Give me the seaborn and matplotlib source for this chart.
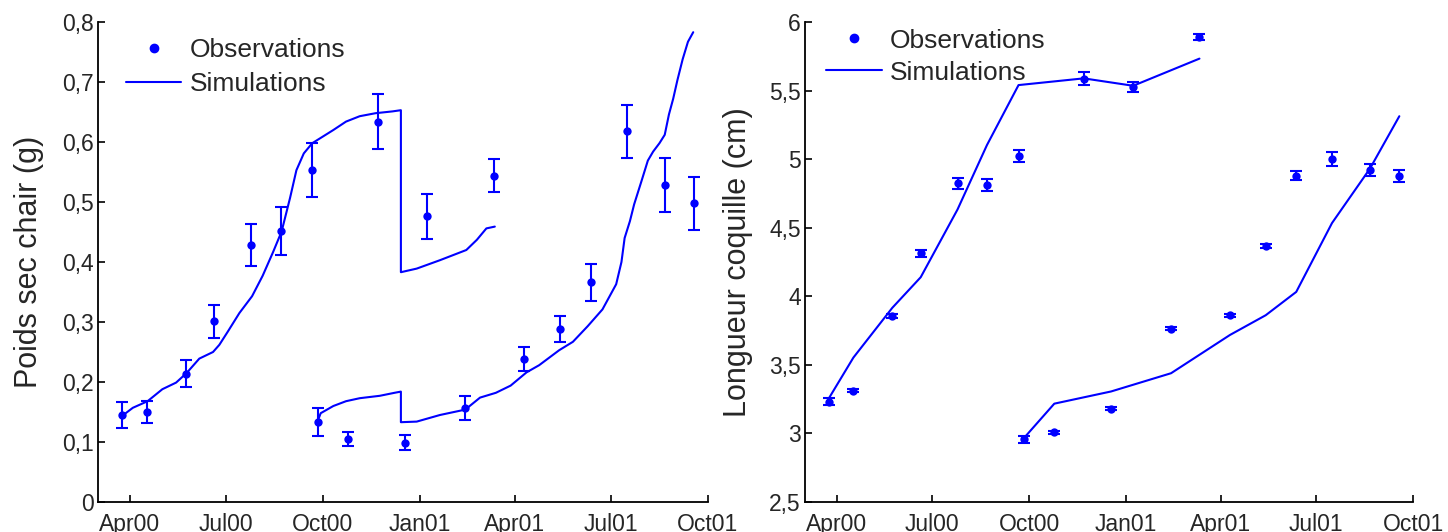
import pandas as pd
import matplotlib.pyplot as plt
import matplotlib.dates as mdates
from matplotlib.lines import Line2D
from matplotlib.ticker import FuncFormatter
import seaborn as sns

BLUE = "#0000ff"

# ──────────────────────────────
# Sampling dates (two cohorts)
# ──────────────────────────────
cohort1_dates = ["2000-03-25", "2000-04-17", "2000-05-24", "2000-06-20", "2000-07-25",
                 "2000-08-22", "2000-09-21", "2000-11-22", "2001-01-08", "2001-03-12"]
cohort2_dates = ["2000-09-26", "2000-10-25", "2000-12-18", "2001-02-13", "2001-04-10",
                 "2001-05-14", "2001-06-12", "2001-07-16", "2001-08-21", "2001-09-18"]

# ──────────────────────────────
# Poids sec chair (g)
# ──────────────────────────────
dw_obs1 = [0.145, 0.150, 0.214, 0.301, 0.428, 0.451, 0.554, 0.634, 0.476, 0.544]
dw_err1 = [0.022, 0.018, 0.022, 0.027, 0.035, 0.040, 0.045, 0.046, 0.037, 0.027]
dw_obs2 = [0.133, 0.105, 0.099, 0.156, 0.238, 0.288, 0.366, 0.618, 0.528, 0.498]
dw_err2 = [0.023, 0.012, 0.012, 0.020, 0.020, 0.022, 0.031, 0.044, 0.045, 0.044]

dw_sim1_dates = ["2000-03-26", "2000-04-04", "2000-04-18", "2000-05-02", "2000-05-15",
                 "2000-05-25", "2000-06-06", "2000-06-19", "2000-06-25", "2000-07-03",
                 "2000-07-14", "2000-07-26", "2000-08-05", "2000-08-15", "2000-08-23",
                 "2000-08-31", "2000-09-06", "2000-09-13", "2000-09-21", "2000-10-01",
                 "2000-10-11", "2000-10-23", "2000-11-05", "2000-11-20", "2000-12-06",
                 "2000-12-14", "2000-12-14", "2000-12-29", "2001-01-20", "2001-02-14",
                 "2001-02-24", "2001-03-05", "2001-03-13"]
dw_sim1 = [0.145, 0.157, 0.168, 0.188, 0.199, 0.215, 0.239, 0.250, 0.262, 0.284,
           0.315, 0.343, 0.377, 0.417, 0.451, 0.507, 0.553, 0.581, 0.598, 0.609,
           0.620, 0.634, 0.643, 0.648, 0.651, 0.653, 0.383, 0.389, 0.403, 0.420,
           0.437, 0.456, 0.459]

dw_sim2_dates = ["2000-09-26", "2000-09-29", "2000-10-11", "2000-10-23", "2000-11-05",
                 "2000-11-24", "2000-12-08", "2000-12-14", "2000-12-14", "2000-12-29",
                 "2001-01-20", "2001-02-13", "2001-02-27", "2001-03-14", "2001-03-28",
                 "2001-04-12", "2001-04-24", "2001-05-13", "2001-05-26", "2001-06-09",
                 "2001-06-23", "2001-07-06", "2001-07-11", "2001-07-14", "2001-07-19",
                 "2001-07-23", "2001-07-30", "2001-08-05", "2001-08-10", "2001-08-16",
                 "2001-08-21", "2001-08-25", "2001-08-29", "2001-09-02", "2001-09-07",
                 "2001-09-12", "2001-09-17"]
dw_sim2 = [0.134, 0.148, 0.160, 0.168, 0.173, 0.177, 0.182, 0.184, 0.133, 0.134,
           0.145, 0.154, 0.174, 0.182, 0.194, 0.216, 0.228, 0.253, 0.267, 0.293,
           0.321, 0.363, 0.400, 0.440, 0.468, 0.496, 0.535, 0.569, 0.584, 0.598,
           0.612, 0.646, 0.672, 0.703, 0.738, 0.767, 0.783]

# ──────────────────────────────
# Longueur coquille (cm)
# ──────────────────────────────
sl_obs1 = [3.232, 3.311, 3.854, 4.312, 4.823, 4.811, 5.021, 5.585, 5.523, 5.889]
sl_err1 = [0.025, 0.012, 0.015, 0.025, 0.038, 0.045, 0.045, 0.047, 0.037, 0.020]
sl_obs2 = [2.957, 3.007, 3.180, 3.763, 3.862, 4.368, 4.880, 5.001, 4.922, 4.875]
sl_err2 = [0.025, 0.010, 0.010, 0.012, 0.010, 0.015, 0.033, 0.050, 0.045, 0.045]

sl_sim1 = [3.260, 3.553, 3.916, 4.139, 4.633, 5.103, 5.540, 5.589, 5.535, 5.733]
sl_sim2 = [2.965, 3.217, 3.306, 3.439, 3.718, 3.862, 4.032, 4.534, 4.930, 5.313]

x_ticks = ["2000-04-01", "2000-07-01", "2000-10-01", "2001-01-01",
           "2001-04-01", "2001-07-01", "2001-10-01"]
x_lim = ["2000-03-02", "2001-10-01"]


def sim_frame(parts):
    rows = []
    for cohort, (dates, vals) in enumerate(parts):
        for d, v in zip(dates, vals):
            rows.append({"date": pd.Timestamp(d), "value": v, "cohort": cohort})
    return pd.DataFrame(rows)


def obs_frame(dates1, v1, e1, dates2, v2, e2):
    return pd.DataFrame({
        "date": pd.to_datetime(dates1 + dates2),
        "value": v1 + v2,
        "err": e1 + e2,
    })


def comma_fmt(v, _):
    return f"{v:g}".replace(".", ",")


def draw_panel(ax, sim_df, obs_df, ylim, yticks, ylabel, label_x, leg_anchor, leg_spacing):
    sns.lineplot(data=sim_df, x="date", y="value", units="cohort", estimator=None,
                 sort=False, color=BLUE, lw=1.5, ax=ax)
    ax.errorbar(obs_df["date"], obs_df["value"], yerr=obs_df["err"], fmt="none",
                ecolor=BLUE, elinewidth=1.5, capsize=4, capthick=1.5)
    sns.scatterplot(data=obs_df, x="date", y="value", color=BLUE, s=36,
                    edgecolor=BLUE, linewidth=0, ax=ax, zorder=3)

    ax.set_xlim(pd.to_datetime(x_lim))
    ax.set_xticks(pd.to_datetime(x_ticks))
    ax.xaxis.set_major_formatter(mdates.DateFormatter("%b%y"))
    ax.set_ylim(*ylim)
    ax.set_yticks(yticks)
    ax.yaxis.set_major_formatter(FuncFormatter(comma_fmt))
    ax.set_xlabel("")
    ax.set_ylabel(ylabel, fontsize=22)
    ax.yaxis.set_label_coords(label_x, 0.5)

    ax.tick_params(direction="in", length=5, width=1.2, labelsize=16.5, color="black")
    ax.tick_params(axis="x", pad=8)
    ax.tick_params(axis="y", pad=3)
    for side in ["left", "bottom"]:
        ax.spines[side].set_linewidth(1.3)
        ax.spines[side].set_color("black")
    sns.despine(ax=ax)

    handles = [
        Line2D([], [], marker="o", ls="none", color=BLUE, ms=6),
        Line2D([], [], color=BLUE, lw=1.5),
    ]
    ax.legend(handles, ["Observations", "Simulations"], loc="upper left",
              bbox_to_anchor=leg_anchor, frameon=False, fontsize=19,
              handlelength=2.1, handletextpad=0.3, labelspacing=leg_spacing,
              borderaxespad=0, borderpad=0)


sns.set_theme(style="ticks")
plt.rcParams["font.family"] = ["Liberation Sans", "DejaVu Sans"]

fig = plt.figure(figsize=(14.48, 5.32), dpi=100)
ax1 = fig.add_axes([98 / 1448, 30 / 532, 610 / 1448, 480 / 532])
ax2 = fig.add_axes([805 / 1448, 30 / 532, 608 / 1448, 480 / 532])

dw_sim_df = sim_frame([(dw_sim1_dates, dw_sim1), (dw_sim2_dates, dw_sim2)])
dw_obs_df = obs_frame(cohort1_dates, dw_obs1, dw_err1, cohort2_dates, dw_obs2, dw_err2)
draw_panel(ax1, dw_sim_df, dw_obs_df, (0, 0.8), [i / 10 for i in range(9)],
           "Poids sec chair (g)", -0.088, (0.046, 0.966), 0.38)

sl_sim_df = sim_frame([(cohort1_dates, sl_sim1), (cohort2_dates, sl_sim2)])
sl_obs_df = obs_frame(cohort1_dates, sl_obs1, sl_err1, cohort2_dates, sl_obs2, sl_err2)
draw_panel(ax2, sl_sim_df, sl_obs_df, (2.5, 6), [2.5 + 0.5 * i for i in range(8)],
           "Longueur coquille (cm)", -0.086, (0.035, 0.986), 0.3)

fig.savefig("out.png", dpi=100)
plt.close(fig)
